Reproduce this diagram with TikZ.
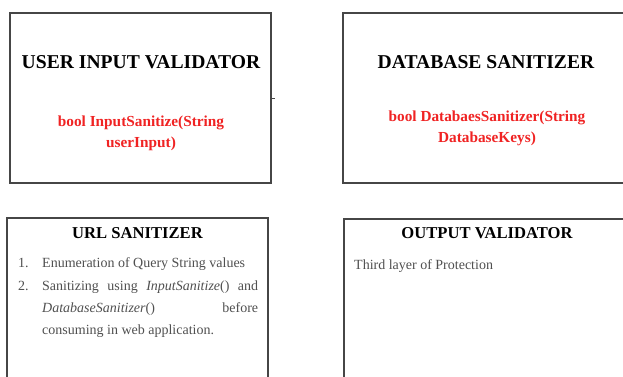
\documentclass[tikz,border=0pt]{standalone}
\usepackage{fontspec}
\setmainfont{Liberation Serif}
\usepackage{xcolor}
\usetikzlibrary{positioning}
\definecolor{boxgray}{RGB}{70,70,70}
\definecolor{sigred}{RGB}{240,35,35}
\definecolor{textgray}{RGB}{80,80,80}

\begin{document}
\begin{tikzpicture}[x=1pt, y=-1pt,
    box/.style={draw=boxgray, line width=1.4pt, fill=white, inner sep=0pt},
    bigtitle/.style={font=\fontsize{19.6}{22}\selectfont\bfseries, text=black},
    smalltitle/.style={font=\fontsize{16.6}{18}\selectfont\bfseries, text=black},
    sig/.style={font=\fontsize{15.3}{21}\selectfont\bfseries, text=sigred, align=center},
    body/.style={font=\fontsize{14}{22}\selectfont, text=textgray, inner sep=0pt}
]
    \useasboundingbox (0,0) rectangle (623,376);
    \clip (0,0) rectangle (623,376);

    % User input validator
    \node[box, minimum width=261pt, minimum height=170pt] (uiv) at (140.5, 98) {};
    \node[bigtitle] (uiv_title) at (141, 62) {USER INPUT VALIDATOR};
    \node[sig] (uiv_sig) at (141, 133) {bool InputSanitize(String\\userInput)};
    \draw[boxgray, line width=0.8pt] (uiv.east) -- ++(3, 0);

    % Database sanitizer
    \node[box, minimum width=287pt, minimum height=170pt] (dbs) at (486.5, 98) {};
    \node[bigtitle] (dbs_title) at (486, 62) {DATABASE SANITIZER};
    \node[sig] (dbs_sig) at (487, 128) {bool DatabaesSanitizer(String\\DatabaseKeys)};

    % URL sanitizer
    \node[box, minimum width=261pt, minimum height=167pt] (urls) at (137.5, 301.5) {};
    \node[smalltitle] (urls_title) at (137.5, 233) {URL SANITIZER};
    \node[body, anchor=base west] (urls_n1) at (18, 267) {1.};
    \node[body, anchor=base west] (urls_i1) at (42, 267) {Enumeration of Query String values};
    \node[body, anchor=base west] (urls_n2) at (18, 290) {2.};
    \node[body, anchor=base west, text width=216pt, align=justify] (urls_i2) at (42, 290)
        {Sanitizing using \textit{InputSanitize}() and\linebreak
         \textit{DatabaseSanitizer}() before\linebreak
         consuming in web application.};

    % Output validator
    \node[box, minimum width=286pt, minimum height=166pt] (outv) at (487, 302) {};
    \node[smalltitle] (outv_title) at (487, 233) {OUTPUT VALIDATOR};
    \node[body, anchor=base west] (outv_txt) at (354, 269) {Third layer of Protection};

\end{tikzpicture}
\end{document}
